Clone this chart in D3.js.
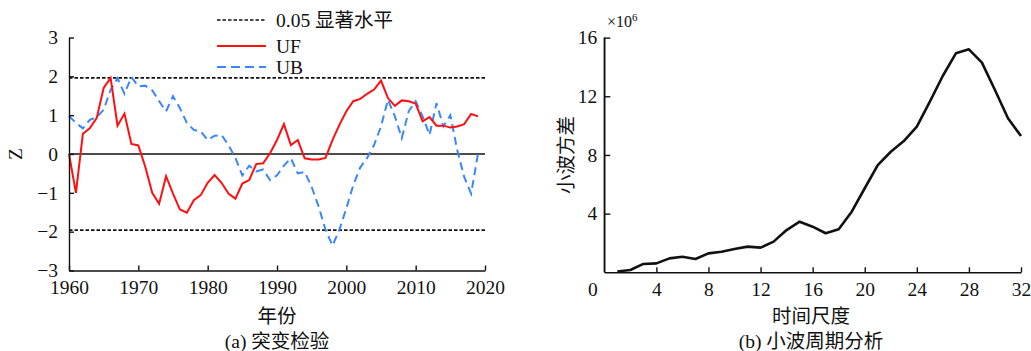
<!DOCTYPE html>
<html>
<head>
<meta charset="utf-8">
<script src="https://cdn.jsdelivr.net/npm/d3@7"></script>
<style>
  html, body { margin: 0; padding: 0; background: #fff; }
  svg { display: block; }
  svg text { font-family: "Liberation Serif", Tinos, "Times New Roman", "Noto Sans CJK SC", serif; fill: #111; }
</style>
</head>
<body>
<svg id="chart" width="1031" height="351"></svg>
<script>
// ---- (a) Mann-Kendall abrupt change test, 1960-2019 ----
const startYear = 1960;
const ufValues = [
  0, -1.0, 0.52, 0.66, 0.93, 1.70, 1.96, 0.73, 1.04, 0.26,
  0.22, -0.33, -1.0, -1.28, -0.57, -1.02, -1.43, -1.51, -1.19, -1.06,
  -0.74, -0.54, -0.74, -1.02, -1.15, -0.76, -0.67, -0.26, -0.24, 0.02,
  0.36, 0.77, 0.23, 0.36, -0.11, -0.14, -0.14, -0.10, 0.36, 0.75,
  1.10, 1.36, 1.42, 1.55, 1.66, 1.89, 1.44, 1.24, 1.38, 1.36,
  1.30, 0.84, 0.95, 0.73, 0.73, 0.68, 0.71, 0.77, 1.03, 0.97
];
const ubValues = [
  0.98, 0.80, 0.66, 0.88, 0.95, 1.14, 1.65, 1.95, 1.55, 1.98,
  1.74, 1.76, 1.64, 1.36, 1.10, 1.49, 1.18, 0.80, 0.62, 0.58,
  0.36, 0.47, 0.49, 0.23, -0.10, -0.55, -0.30, -0.45, -0.40, -0.67,
  -0.55, -0.30, -0.11, -0.50, -0.46, -0.85, -1.35, -1.95, -2.36, -1.95,
  -1.40, -0.80, -0.35, -0.10, 0.23, 0.71, 1.40, 0.97, 0.41, 1.10,
  1.36, 0.97, 0.49, 1.31, 0.71, 1.00, 0.10, -0.59, -1.02, 0.02
];
const significance = 1.96;
const yearTicks = [1960, 1970, 1980, 1990, 2000, 2010, 2020];
const zTicks = [-3, -2, -1, 0, 1, 2, 3];
const legendLabels = ["0.05 显著水平", "UF", "UB"];

// ---- (b) wavelet variance by time scale ----
const scales = [1, 2, 3, 4, 5, 6, 7, 8, 9, 10, 11, 12, 13, 14, 15, 16,
                17, 18, 19, 20, 21, 22, 23, 24, 25, 26, 27, 28, 29, 30, 31, 32];
const variance = [0.05, 0.16, 0.57, 0.61, 0.95, 1.06, 0.91, 1.29, 1.40, 1.59, 1.75, 1.68,
                  2.09, 2.88, 3.45, 3.11, 2.66, 2.93, 4.13, 5.73, 7.31, 8.22, 8.95, 9.93,
                  11.63, 13.40, 14.93, 15.20, 14.29, 12.43, 10.50, 9.29];
const scaleTicks = [0, 4, 8, 12, 16, 20, 24, 28, 32];
const varianceTicks = [4, 8, 12, 16];

const svg = d3.select("#chart");
const fs = 19.5;
const serif = "'Liberation Serif', Tinos, 'Times New Roman', 'Noto Sans CJK SC', serif";
const minus = d => String(d).replace("-", "\u2212");

function styleAxis(g) {
  g.attr("font-family", serif);
  g.selectAll("path.domain").attr("stroke", "#111").attr("stroke-width", 1.4);
  g.selectAll(".tick line").attr("stroke", "#111").attr("stroke-width", 1.4);
  g.selectAll(".tick text").attr("font-size", fs).attr("fill", "#111")
    .style("font-family", serif);
}

// ================= panel (a) =================
const xa = d3.scaleLinear().domain([1960, 2020]).range([69, 485]);
const ya = d3.scaleLinear().domain([-3, 3]).range([270.5, 37.5]);
const years = ufValues.map((_, i) => startYear + i);

const pa = svg.append("g").attr("font-family", serif);

// significance thresholds
[significance, -significance].forEach(v => {
  pa.append("line")
    .attr("x1", xa(1960)).attr("x2", xa(2020))
    .attr("y1", ya(v)).attr("y2", ya(v))
    .attr("stroke", "#111").attr("stroke-width", 1.6)
    .attr("stroke-dasharray", "3.5,2");
});
// zero reference
pa.append("line")
  .attr("x1", xa(1960)).attr("x2", xa(2020))
  .attr("y1", ya(0)).attr("y2", ya(0))
  .attr("stroke", "#111").attr("stroke-width", 1.6);

const lineA = d3.line().x((d, i) => xa(years[i])).y(d => ya(d));
pa.append("path").datum(ubValues)
  .attr("d", lineA).attr("fill", "none")
  .attr("stroke", "#3a86ff").attr("stroke-width", 2)
  .attr("stroke-dasharray", "8,5");
pa.append("path").datum(ufValues)
  .attr("d", lineA).attr("fill", "none")
  .attr("stroke", "#ff1010").attr("stroke-width", 2);

pa.append("g").attr("transform", `translate(0,${ya(-3)})`)
  .call(d3.axisBottom(xa).tickValues(yearTicks).tickFormat(d3.format("d"))
        .tickSize(-5).tickSizeOuter(0).tickPadding(10))
  .call(styleAxis);
pa.append("g").attr("transform", `translate(${xa(1960)},0)`)
  .call(d3.axisLeft(ya).tickValues(zTicks).tickFormat(minus)
        .tickSize(-5).tickSizeOuter(0).tickPadding(11))
  .call(styleAxis);

pa.append("text").attr("transform", `translate(22,${ya(0)}) rotate(-90)`)
  .attr("text-anchor", "middle").attr("font-size", fs).text("Z");
pa.append("text").attr("x", 277).attr("y", 323)
  .attr("text-anchor", "middle").attr("font-size", fs).text("年份");
pa.append("text").attr("x", 277).attr("y", 348)
  .attr("text-anchor", "middle").attr("font-size", fs).text("(a) 突变检验");

// legend
const legend = pa.append("g");
const legendStyles = [
  { stroke: "#111", dash: "3.5,2", w: 1.6 },
  { stroke: "#ff1010", dash: null, w: 2 },
  { stroke: "#3a86ff", dash: "9,5", w: 2 }
];
const legendY = [20, 46, 67];
legendLabels.forEach((lab, i) => {
  const st = legendStyles[i];
  legend.append("line")
    .attr("x1", 217).attr("x2", 266)
    .attr("y1", legendY[i]).attr("y2", legendY[i])
    .attr("stroke", st.stroke).attr("stroke-width", st.w)
    .attr("stroke-dasharray", st.dash);
  legend.append("text")
    .attr("x", 276).attr("y", legendY[i]).attr("dy", "0.35em")
    .attr("font-size", fs).text(lab);
});

// ================= panel (b) =================
const xb = d3.scaleLinear().domain([0, 32]).range([604.3, 1021]);
const yb = d3.scaleLinear().domain([0, 16]).range([272.3, 37.6]);
const pb = svg.append("g").attr("font-family", serif);

pb.append("path").datum(variance)
  .attr("d", d3.line().x((d, i) => xb(scales[i])).y(d => yb(d)))
  .attr("fill", "none").attr("stroke", "#111").attr("stroke-width", 2.6)
  .attr("stroke-linejoin", "round");

const xAxisB = pb.append("g").attr("transform", `translate(0,${yb(0)})`)
  .call(d3.axisBottom(xb).tickValues(scaleTicks).tickFormat(d3.format("d"))
        .tickSize(-5).tickSizeOuter(0).tickPadding(10))
  .call(styleAxis);
// origin label sits left of the corner
xAxisB.selectAll(".tick").filter(d => d === 0)
  .select("text").attr("x", -12);
xAxisB.selectAll(".tick").filter(d => d === 0).select("line").remove();

pb.append("g").attr("transform", `translate(${xb(0)},0)`)
  .call(d3.axisLeft(yb).tickValues(varianceTicks).tickFormat(d3.format("d"))
        .tickSize(-6).tickSizeOuter(0).tickPadding(7))
  .call(styleAxis);
// left spine spans the full value range
pb.append("line").attr("x1", xb(0)).attr("x2", xb(0))
  .attr("y1", yb(16)).attr("y2", yb(0)).attr("stroke", "#111").attr("stroke-width", 1.4);

const mult = pb.append("text").attr("x", 607).attr("y", 27).attr("font-size", 16);
mult.append("tspan").text("×10");
mult.append("tspan").attr("dy", -6).attr("font-size", 11).text("6");

pb.append("text")
  .attr("transform", `translate(573,155) rotate(-90)`)
  .attr("text-anchor", "middle").attr("font-size", fs).text("小波方差");
pb.append("text").attr("x", 811).attr("y", 323)
  .attr("text-anchor", "middle").attr("font-size", fs).text("时间尺度");
pb.append("text").attr("x", 811).attr("y", 348)
  .attr("text-anchor", "middle").attr("font-size", fs).text("(b) 小波周期分析");
</script>
</body>
</html>
